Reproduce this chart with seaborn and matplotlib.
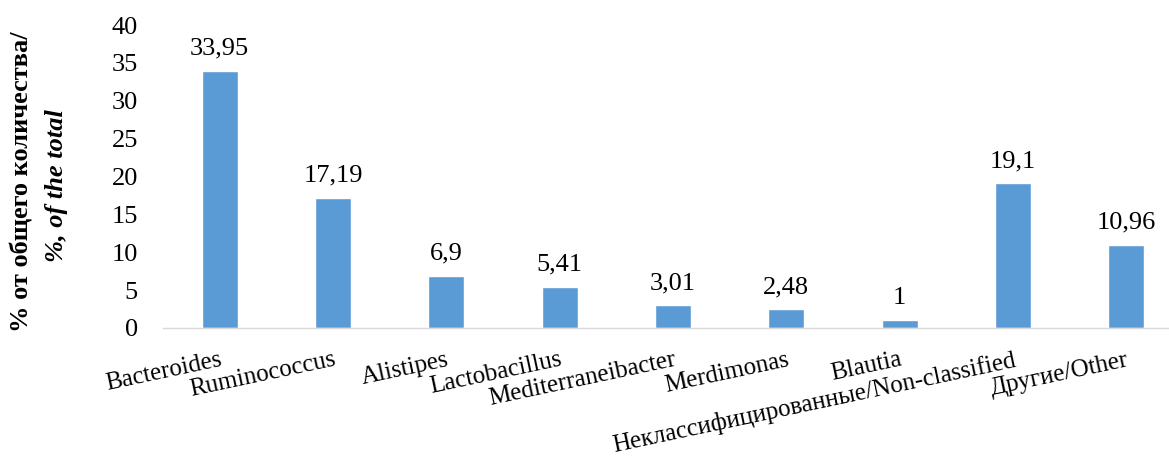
import matplotlib
matplotlib.use("Agg")
import matplotlib.pyplot as plt
import seaborn as sns
import pandas as pd

categories = ["Bacteroides", "Ruminococcus", "Alistipes", "Lactobacillus",
              "Mediterraneibacter", "Merdimonas", "Blautia",
              "Неклассифицированные/Non-classified", "Другие/Other"]
values = [33.95, 17.19, 6.9, 5.41, 3.01, 2.48, 1, 19.1, 10.96]
y_ticks = [0, 5, 10, 15, 20, 25, 30, 35, 40]

sns.set_theme(style="white")
plt.rcParams['font.family'] = ['Liberation Serif', 'DejaVu Serif']

df = pd.DataFrame({"cat": categories, "val": values})

fig = plt.figure(figsize=(11.69, 4.66), dpi=100)
ax = fig.add_axes([163/1169, 1 - 328/466, (1183 - 163)/1169, (328 - 25)/466])

sns.barplot(data=df, x="cat", y="val", color="#5B9BD5", saturation=1,
            width=0.32, ax=ax)

ax.set_ylim(0, 40)
ax.set_yticks(y_ticks)
ax.set_yticklabels([str(t) for t in y_ticks], fontsize=19, color="black")
ax.tick_params(axis="y", length=0, pad=18)
ax.tick_params(axis="x", length=0, pad=15)
ax.set_xlim(-0.5, len(categories) - 0.5)

for s in ["top", "right", "left"]:
    ax.spines[s].set_visible(False)
ax.spines["bottom"].set_color("#D9D9D9")
ax.spines["bottom"].set_linewidth(1.0)

labels = [f"{v:g}".replace(".", ",") for v in values]
ax.bar_label(ax.containers[0], labels=labels, padding=8, fontsize=19, color="black")

ax.set_xlabel("")
ax.set_ylabel("")
ax.set_xticks(range(len(categories)))
ax.set_xticklabels(categories, fontsize=18, color="black", rotation=12,
                   ha="right", va="top", rotation_mode="anchor")

# two-line y label
ax.text(-0.138, 0.483, "% от общего количества/", transform=ax.transAxes,
        rotation=90, ha="center", va="center", fontsize=19, fontweight="bold",
        color="black")
ax.text(-0.104, 0.47, "%, of the total", transform=ax.transAxes,
        rotation=90, ha="center", va="center", fontsize=19, fontweight="bold",
        fontstyle="italic", color="black")

fig.savefig("out.png", dpi=100)
